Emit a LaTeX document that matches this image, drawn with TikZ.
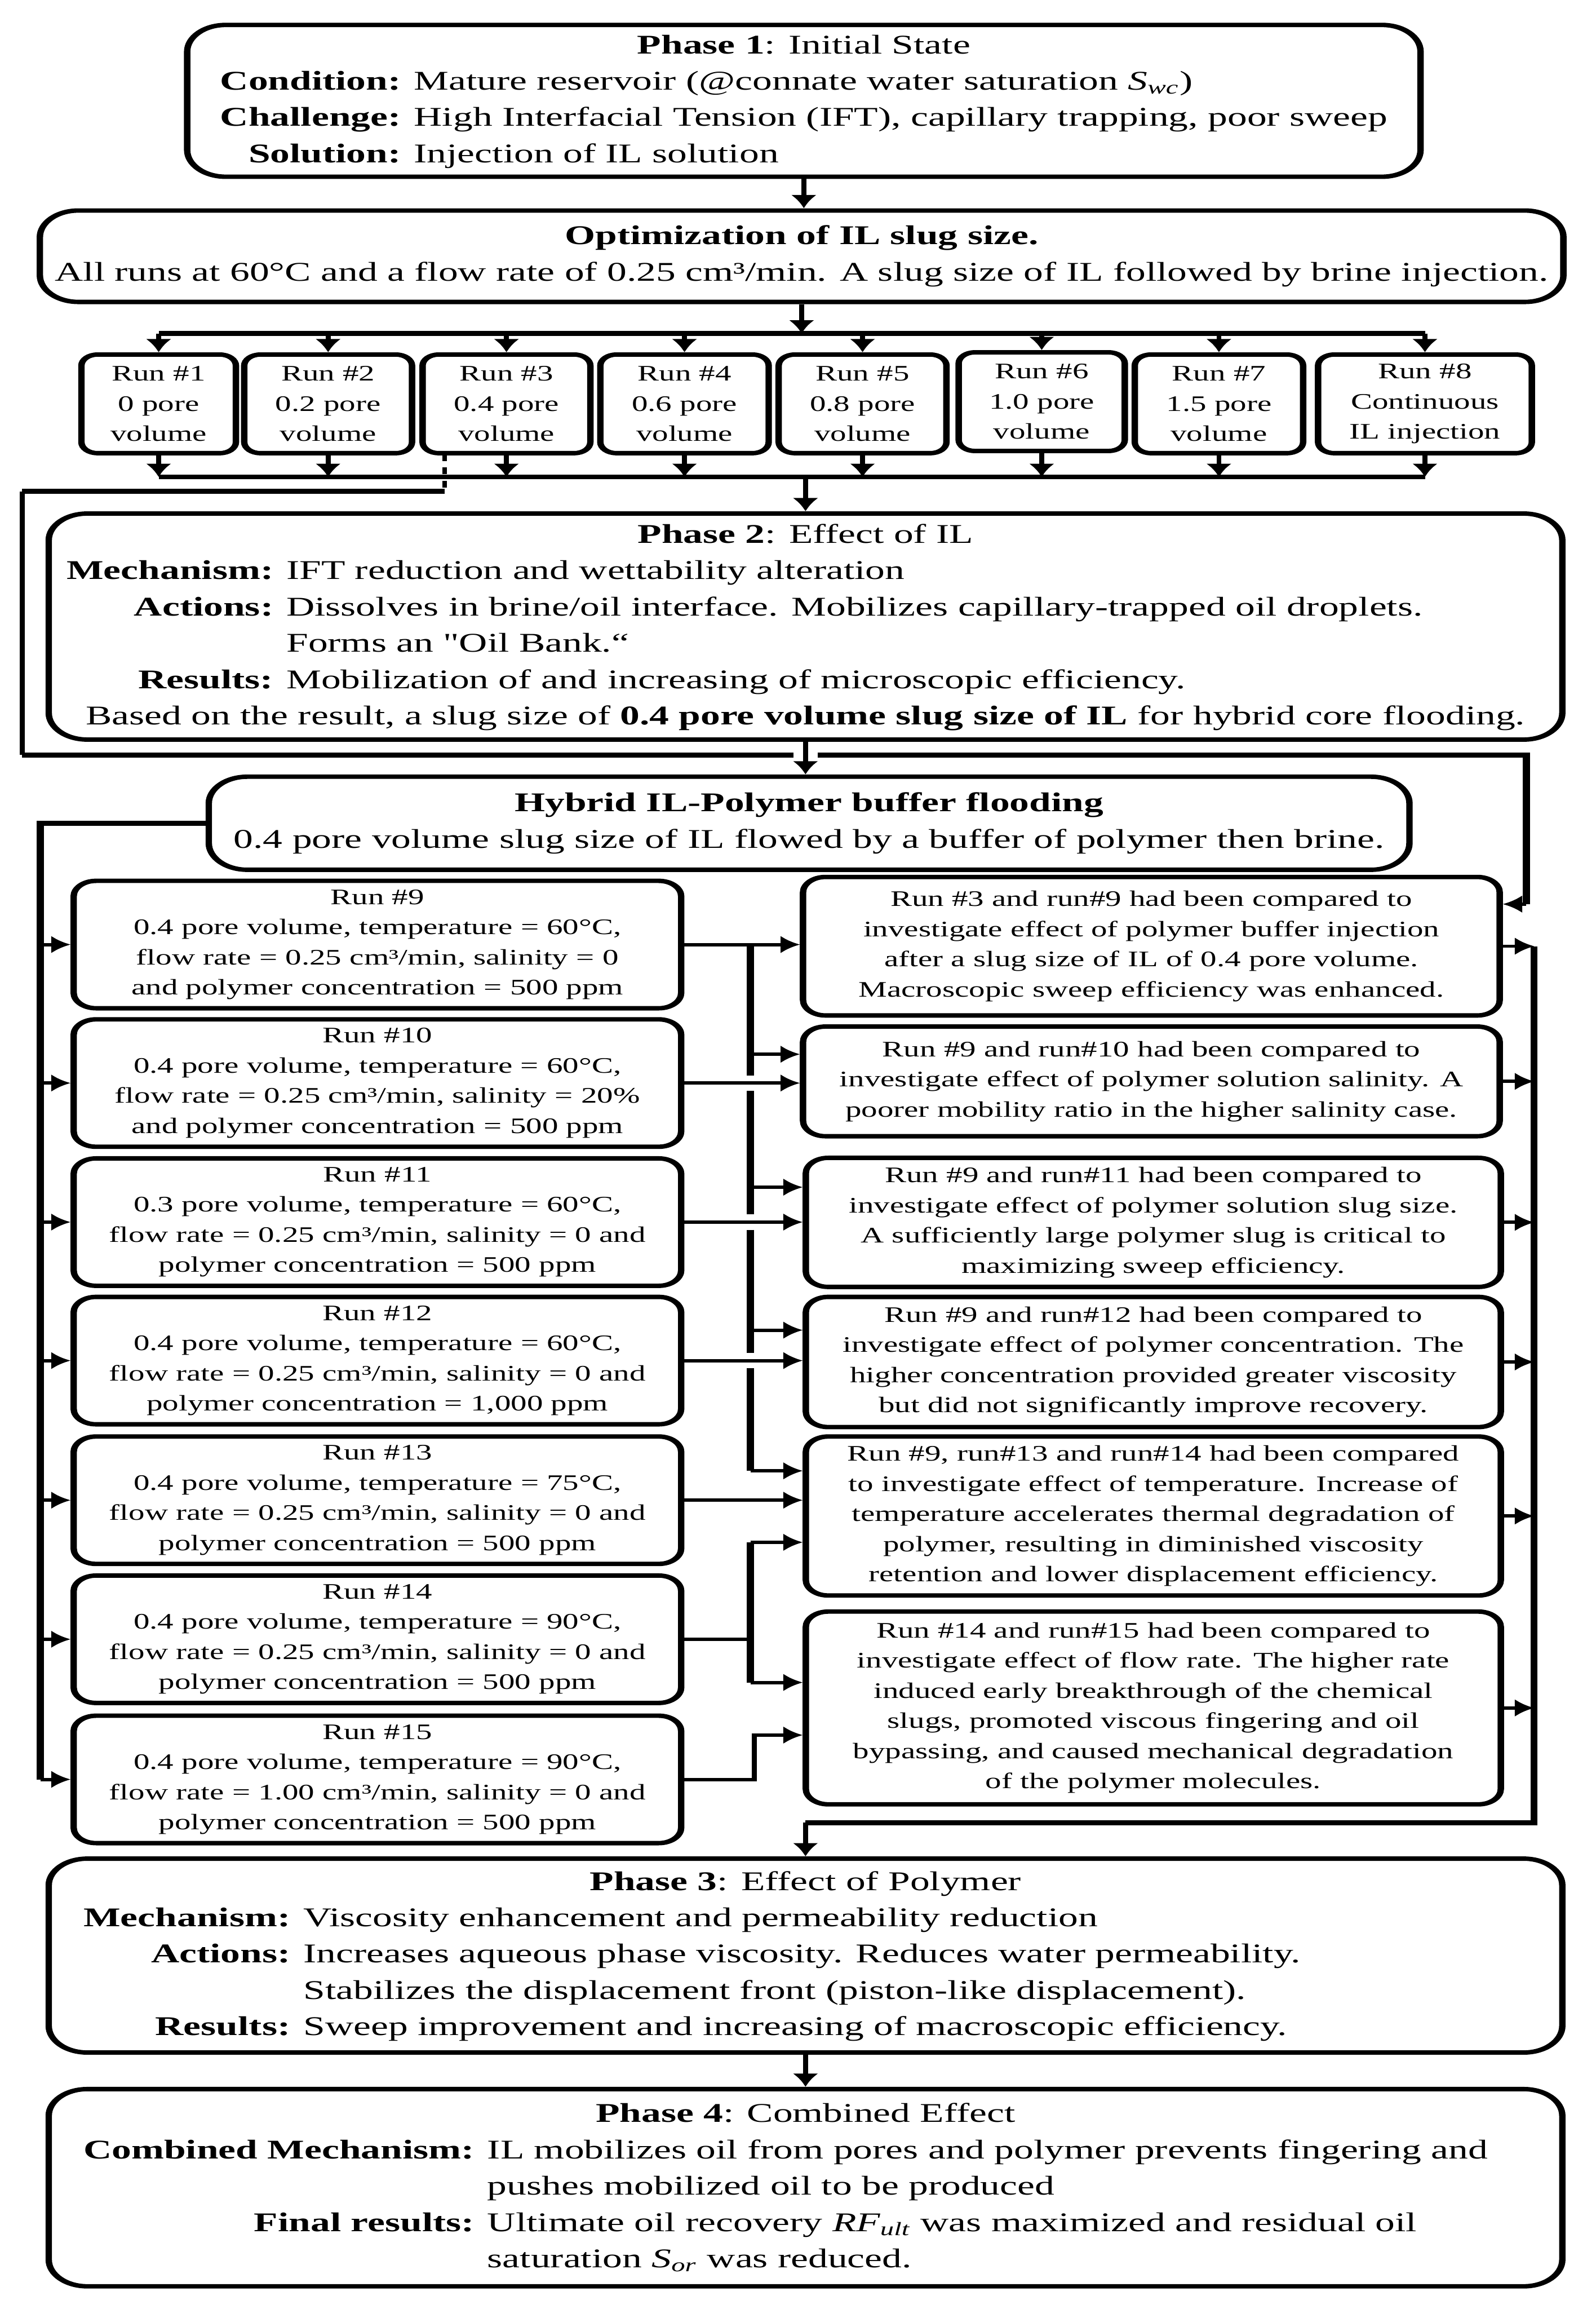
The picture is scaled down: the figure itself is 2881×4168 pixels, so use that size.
\documentclass[tikz,border=0pt]{standalone}
\usepackage{fontspec}
\setmainfont{Liberation Serif}
\newfontfamily\qfont{Liberation Serif}
\usepackage{tabularx}
\usetikzlibrary{arrows.meta,calc}
\newcommand\bigf{\fontsize{12.2}{16.4}\selectfont}
\newcommand\smf{\fontsize{10}{13.6}\selectfont}
\tikzset{
  box/.style={draw, line width=2pt, inner sep=0pt, fill=white, align=center},
  bigbox/.style={box, rounded corners=12pt, font=\bigf},
  runbox/.style={box, rounded corners=5pt, font=\smf},
  midbox/.style={box, rounded corners=7pt, font=\smf},
  spot/.style n args={4}{at={({(#1+#3)/2},{(#2+#4)/2})},
     minimum width={(#3-#1)*0.1724138pt}, minimum height={(#4-#2)*0.25pt}},
  conn/.style={line width=1.5pt},
  arr/.style={conn, -{Latex[length=6pt,width=8pt]}},
  bus/.style={line width=2.2pt},
}
\begin{document}
\begin{tikzpicture}[x=0.25pt,y=-0.25pt]
\useasboundingbox (0,0) rectangle (2881,4168);
\begin{scope}[x=0.1724138pt, y=-0.25pt, transform canvas={xscale=1.45}]

% ---------- Phase 1 ----------
\node[bigbox, spot={338}{45}{2565}{319}] (P1) {\begin{tabular}{@{}r@{ }l@{}}
\multicolumn{2}{c}{\textbf{Phase 1}: Initial State}\\
\textbf{Condition:} & Mature reservoir (@connate water saturation \textit{S\textsubscript{wc}})\\
\textbf{Challenge:} & High Interfacial Tension (IFT), capillary trapping, poor sweep\\
\textbf{Solution:} & Injection of IL solution
\end{tabular}};

\node[bigbox, spot={72}{380}{2823}{545}] (OPT) {\textbf{Optimization of IL slug size.}\\All runs at 60°C and a flow rate of 0.25 cm³/min. A slug size of IL followed by brine injection.};

% ---------- Runs 1-8 ----------
\node[runbox, spot={147}{640}{426}{818}] (R1) {Run \#1\\0 pore\\volume};
\node[runbox, spot={441}{640}{744}{818}] (R2) {Run \#2\\0.2 pore\\volume};
\node[runbox, spot={763}{640}{1066}{818}] (R3) {Run \#3\\0.4 pore\\volume};
\node[runbox, spot={1084}{640}{1388}{818}] (R4) {Run \#4\\0.6 pore\\volume};
\node[runbox, spot={1406}{640}{1709}{818}] (R5) {Run \#5\\0.8 pore\\volume};
\node[runbox, spot={1731}{636}{2031}{814}] (R6) {Run \#6\\1.0 pore\\volume};
\node[runbox, spot={2049}{640}{2353}{818}] (R7) {Run \#7\\1.5 pore\\volume};
\node[runbox, spot={2380}{640}{2766}{818}] (R8) {Run \#8\\Continuous\\IL injection};

% ---------- Phase 2 ----------
\node[bigbox, spot={88}{927}{2821}{1335}] (P2) {\begin{tabular}{@{}r@{ }l@{}}
\multicolumn{2}{c}{\textbf{Phase 2}: Effect of IL}\\
\textbf{Mechanism:} & IFT reduction and wettability alteration\\
\textbf{Actions:} & Dissolves in brine/oil interface. Mobilizes capillary-trapped oil droplets.\\
 & Forms an {\qfont"}Oil Bank.“\\
\textbf{Results:} & Mobilization of and increasing of microscopic efficiency.\\
\multicolumn{2}{c}{Based on the result, a slug size of \textbf{0.4 pore volume slug size of IL} for hybrid core flooding.}
\end{tabular}};

\node[bigbox, spot={377}{1402}{2545}{1570}] (HY) {\textbf{Hybrid IL-Polymer buffer flooding}\\0.4 pore volume slug size of IL flowed by a buffer of polymer then brine.};

% ---------- Runs 9-15 ----------
\node[midbox, spot={133}{1590}{1230}{1820}] (R9) {Run \#9\\0.4 pore volume, temperature = 60°C,\\flow rate = 0.25 cm³/min, salinity = 0\\and polymer concentration = 500 ppm};
\node[midbox, spot={133}{1840}{1230}{2070}] (R10) {Run \#10\\0.4 pore volume, temperature = 60°C,\\flow rate = 0.25 cm³/min, salinity = 20\%\\and polymer concentration = 500 ppm};
\node[midbox, spot={133}{2091}{1230}{2321}] (R11) {Run \#11\\0.3 pore volume, temperature = 60°C,\\flow rate = 0.25 cm³/min, salinity = 0 and\\polymer concentration = 500 ppm};
\node[midbox, spot={133}{2341}{1230}{2571}] (R12) {Run \#12\\0.4 pore volume, temperature = 60°C,\\flow rate = 0.25 cm³/min, salinity = 0 and\\polymer concentration = 1,000 ppm};
\node[midbox, spot={133}{2593}{1230}{2823}] (R13) {Run \#13\\0.4 pore volume, temperature = 75°C,\\flow rate = 0.25 cm³/min, salinity = 0 and\\polymer concentration = 500 ppm};
\node[midbox, spot={133}{2844}{1230}{3074}] (R14) {Run \#14\\0.4 pore volume, temperature = 90°C,\\flow rate = 0.25 cm³/min, salinity = 0 and\\polymer concentration = 500 ppm};
\node[midbox, spot={133}{3097}{1230}{3327}] (R15) {Run \#15\\0.4 pore volume, temperature = 90°C,\\flow rate = 1.00 cm³/min, salinity = 0 and\\polymer concentration = 500 ppm};

% ---------- Comparisons ----------
\node[midbox, spot={1450}{1583}{2708}{1833}] (C1) {Run \#3 and run\#9 had been compared to\\investigate effect of polymer buffer injection\\after a slug size of IL of 0.4 pore volume.\\Macroscopic sweep efficiency was enhanced.};
\node[midbox, spot={1450}{1853}{2708}{2051}] (C2) {Run \#9 and run\#10 had been compared to\\investigate effect of polymer solution salinity. A\\poorer mobility ratio in the higher salinity case.};
\node[midbox, spot={1455}{2090}{2710}{2323}] (C3) {Run \#9 and run\#11 had been compared to\\investigate effect of polymer solution slug size.\\A sufficiently large polymer slug is critical to\\maximizing sweep efficiency.};
\node[midbox, spot={1455}{2341}{2710}{2576}] (C4) {Run \#9 and run\#12 had been compared to\\investigate effect of polymer concentration. The\\higher concentration provided greater viscosity\\but did not significantly improve recovery.};
\node[midbox, spot={1455}{2593}{2710}{2880}] (C5) {Run \#9, run\#13 and run\#14 had been compared\\to investigate effect of temperature. Increase of\\temperature accelerates thermal degradation of\\polymer, resulting in diminished viscosity\\retention and lower displacement efficiency.};
\node[midbox, spot={1455}{2909}{2710}{3257}] (C6) {Run \#14 and run\#15 had been compared to\\investigate effect of flow rate. The higher rate\\induced early breakthrough of the chemical\\slugs, promoted viscous fingering and oil\\bypassing, and caused mechanical degradation\\of the polymer molecules.};

% ---------- Phase 3 & 4 ----------
\node[bigbox, spot={88}{3355}{2821}{3705}] (P3) {\begin{tabularx}{449.5pt}{@{}r@{ }>{\raggedright\arraybackslash}X@{}}
\multicolumn{2}{c}{\textbf{Phase 3}: Effect of Polymer}\\
\textbf{Mechanism:} & Viscosity enhancement and permeability reduction\\
\textbf{Actions:} & Increases aqueous phase viscosity. Reduces water permeability.\\
 & Stabilizes the displacement front (piston-like displacement).\\
\textbf{Results:} & Sweep improvement and increasing of macroscopic efficiency.
\end{tabularx}};

\node[bigbox, spot={88}{3771}{2821}{4127}] (P4) {\begin{tabularx}{449.5pt}{@{}r@{ }>{\raggedright\arraybackslash}X@{}}
\multicolumn{2}{c}{\textbf{Phase 4}: Combined Effect}\\
\textbf{Combined Mechanism:} & IL mobilizes oil from pores and polymer prevents fingering and\\
 & pushes mobilized oil to be produced\\
\textbf{Final results:} & Ultimate oil recovery \textit{RF\textsubscript{ult}} was maximized and residual oil\\
 & saturation \textit{S\textsubscript{or}} was reduced.
\end{tabularx}};

% ---------- connectors: top part ----------
\coordinate (tb) at (1450,602);
\coordinate (bb) at (1452,861);
\draw[arr] (P1.south) -- (P1.south |- OPT.north);
\draw[arr] (OPT.south) -- (OPT.south |- tb);
\draw[bus] (R1.north |- tb) -- (R8.north |- tb);
\foreach \r in {R1,R2,R3,R4,R5,R6,R7,R8} {
  \draw[arr] (\r.north |- tb) -- (\r.north);
  \draw[arr] (\r.south) -- (\r.south |- bb);
}
\draw[bus] (R1.south |- bb) -- (R8.south |- bb);
\draw[arr] (P2.north |- bb) -- (P2.north);

% ---------- Run 3 link to comparison 1 ----------
\coordinate (d0) at (803,820);
\coordinate (d1) at (803,887);
\coordinate (d2) at (40,887);
\coordinate (d3) at (40,1363);
\coordinate (d4) at (2756,1363);
\coordinate (d5) at (2756,1632);
\draw[conn, dashed] (d0) -- (d1);
\draw[bus] (d1) -- (d2);
\draw[conn] (d2) -- (d3);
\draw[bus] (d3) -- ($(P2.south |- d3)+(-22,0)$);
\draw[bus] ($(P2.south |- d3)+(22,0)$) -- (d4) -- (d5);
\draw[arr] (d5) -- (d5 -| C1.east);
\draw[arr] (P2.south) -- (P2.south |- HY.north);

% ---------- left bus ----------
\coordinate (lb) at (73,1486);
\draw[bus] (HY.west) -- (HY.west -| lb) -- (lb |- R15.west);
\foreach \r in {R9,R10,R11,R12,R13,R14,R15}
  \draw[arr] (lb |- \r.west) -- (\r.west);

% ---------- middle connectors ----------
\draw[arr] (R9.east) -- (R9.east -| C1.west);
\draw[arr] (R10.east) -- (R10.east -| C2.west);
\draw[arr] (R11.east) -- (R11.east -| C3.west);
\draw[arr] (R12.east) -- (R12.east -| C4.west);
\draw[arr] (R13.east) -- (R13.east -| C5.west);
\coordinate (mb) at (1355,1705);
\coordinate (m2) at (1355,1903);
\coordinate (m3) at (1355,2143);
\coordinate (m4) at (1355,2401);
\coordinate (m5) at (1355,2655);
\draw[bus] (mb |- R9.east) -- ($(mb |- R10.east)+(0,-14)$);
\draw[bus] ($(mb |- R10.east)+(0,14)$) -- ($(mb |- R11.east)+(0,-14)$);
\draw[bus] ($(mb |- R11.east)+(0,14)$) -- ($(mb |- R12.east)+(0,-14)$);
\draw[bus] ($(mb |- R12.east)+(0,14)$) -- (m5);
\draw[arr] (m2) -- (m2 -| C2.west);
\draw[arr] (m3) -- (m3 -| C3.west);
\draw[arr] (m4) -- (m4 -| C4.west);
\draw[arr] (m5) -- (m5 -| C5.west);

\coordinate (f1) at (1355,2784);
\coordinate (f2) at (1355,3037);
\draw[conn] (R14.east) -- (R14.east -| f1);
\draw[bus] (f1) -- (f2);
\draw[arr] (f1) -- (f1 -| C5.west);
\draw[arr] (f2) -- (f2 -| C6.west);
\coordinate (g1) at (1362,3132);
\draw[arr] (R15.east) -| (g1) -- (g1 -| C6.west);

% ---------- right bus ----------
\coordinate (rb) at (2770,1708);
\coordinate (rbe) at (2770,3290);
\foreach \c in {C1,C2,C3,C4,C5,C6}
  \draw[arr] (\c.east) -- (\c.east -| rb);
\draw[bus] (rb |- C1.east) -- (rbe) -- (rbe -| P3.north);
\draw[arr] (rbe -| P3.north) -- (P3.north);
\draw[arr] (P3.south) -- (P4.north);
\end{scope}
\end{tikzpicture}
\end{document}
